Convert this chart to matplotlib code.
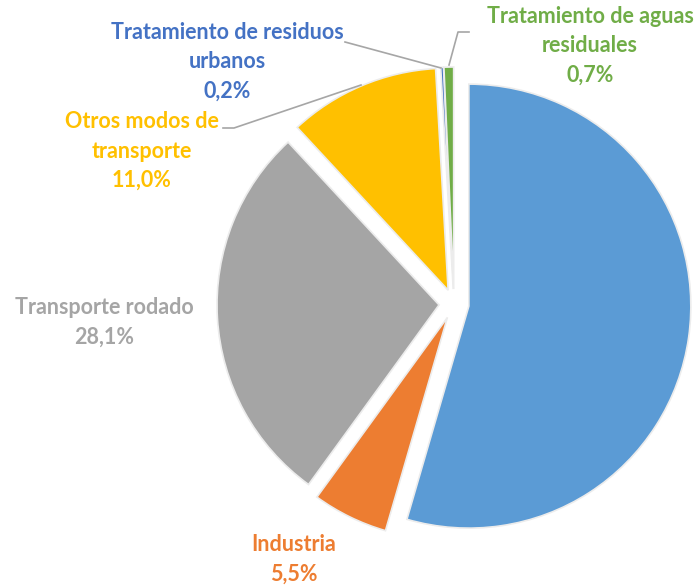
import matplotlib
matplotlib.use("Agg")
import matplotlib.pyplot as plt

# Data
labels = ["", "Industria", "Transporte rodado", "Otros modos de\ntransporte",
          "Tratamiento de residuos\nurbanos", "Tratamiento de aguas\nresiduales"]
values = [54.5, 5.5, 28.1, 11.0, 0.2, 0.7]
colors = ["#5B9BD5", "#ED7D31", "#A5A5A5", "#FFC000", "#4472C4", "#70AD47"]

# label block centres (pixel coords, y from top) and leader lines
label_pos = [None, (294, 559), (104, 322), (142, 151), (227, 62), (590, 46)]
leaders = [None, None, None,
           [(223, 128), (234, 128), (361, 85)],
           [(345, 42), (441, 68)],
           [(469, 32), (458, 32), (449, 65)]]

H = 587
fig = plt.figure(figsize=(6.99, 5.87), dpi=100)
ax = fig.add_axes([0, 0, 1, 1])

ax.pie(values, colors=colors, startangle=90, counterclock=False,
       radius=222, center=(454, H - 304), explode=[15] * len(values),
       wedgeprops=dict(edgecolor="#ececec", linewidth=1.2))

ax.set_xlim(0, 699)
ax.set_ylim(0, H)
ax.set_aspect("equal")
ax.axis("off")

for lab, v, c, pos, ln in zip(labels, values, colors, label_pos, leaders):
    if pos is None:
        continue
    txt = lab + "\n" + f"{v:.1f}".replace(".", ",") + "%"
    ax.text(pos[0], H - pos[1], txt, color=c, fontsize=15.5, fontweight="bold",
            family="Lato", ha="center", va="center", linespacing=1.5)
    if ln is not None:
        ax.plot([p[0] for p in ln], [H - p[1] for p in ln], color="#A6A6A6", lw=1.2)

fig.savefig("out.png", dpi=100)
